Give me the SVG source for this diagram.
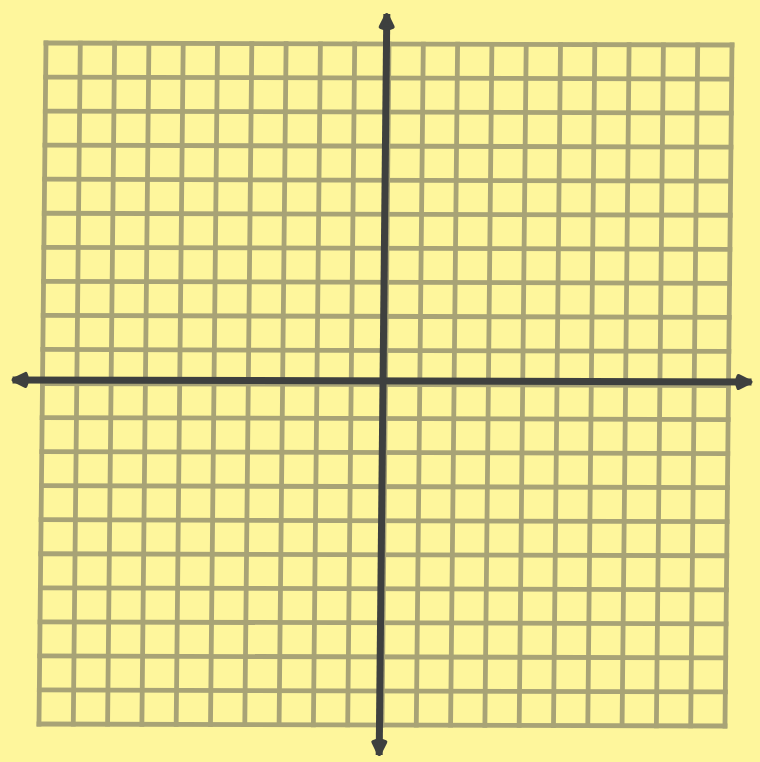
<svg xmlns="http://www.w3.org/2000/svg" width="760" height="762" viewBox="0 0 760 762">
  <style>
    .grid { fill: none; stroke: #A8A376; stroke-width: 4.8; stroke-linecap: square; }
    .axis { fill: none; stroke: #3E403F; stroke-width: 7; }
  </style>
  <defs>
    <marker id="arrow" markerUnits="userSpaceOnUse" markerWidth="24" markerHeight="24" viewBox="0 0 24 24" refX="20" refY="12" orient="auto-start-reverse" overflow="visible">
      <path d="M7,6 L19,12 L7,18 Q4,12 7,6 Z" fill="#3E403F" stroke="#3E403F" stroke-width="4" stroke-linejoin="round"/>
    </marker>
  </defs>
  <rect x="0" y="0" width="760" height="762" fill="#FEF69C"/>
  <g id="plane" transform="matrix(1 0.0029 -0.0103 1 46 43)">
    <g id="grid">
      <path class="grid" d="M0,0V681M34.3,0V681M68.6,0V681M102.9,0V681M137.2,0V681M171.5,0V681M205.8,0V681M240.1,0V681M274.4,0V681M308.7,0V681M343,0V681M377.3,0V681M411.6,0V681M445.9,0V681M480.2,0V681M514.5,0V681M548.8,0V681M583.1,0V681M617.4,0V681M651.7,0V681M686,0V681"/>
      <path class="grid" d="M0,0H686M0,34.05H686M0,68.1H686M0,102.15H686M0,136.2H686M0,170.25H686M0,204.3H686M0,238.35H686M0,272.4H686M0,306.45H686M0,340.5H686M0,374.55H686M0,408.6H686M0,442.65H686M0,476.7H686M0,510.75H686M0,544.8H686M0,578.85H686M0,612.9H686M0,646.95H686M0,681H686"/>
    </g>
    <g id="axes">
      <line id="x-axis" class="axis" x1="-30" y1="337" x2="709" y2="337" marker-start="url(#arrow)" marker-end="url(#arrow)"/>
      <line id="y-axis" class="axis" x1="340.5" y1="-30" x2="340.5" y2="711" marker-start="url(#arrow)" marker-end="url(#arrow)"/>
    </g>
  </g>
</svg>
